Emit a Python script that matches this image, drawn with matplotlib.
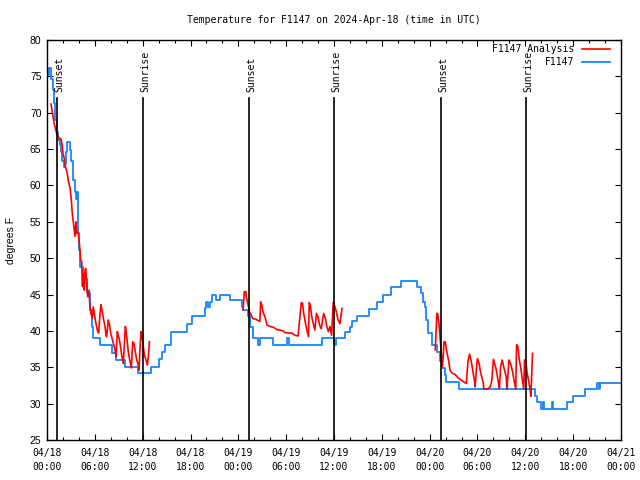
import numpy as np
import matplotlib
matplotlib.use("Agg")
from matplotlib import pyplot as plt
from matplotlib.ticker import MultipleLocator

# hours since 2024-04-18 00:00 UTC
obs_hours = [0.0, 0.3, 0.55, 0.75, 0.9, 1.05, 1.25, 1.4, 1.6, 1.7, 1.9, 2.1, 2.3, 2.4, 2.55,
             2.85, 3.05, 3.2, 3.3, 3.45, 3.6, 3.75, 3.85, 3.9, 3.95, 4.05, 4.2, 4.55, 5.0, 5.4,
             5.6, 5.8, 6.65, 8.1, 8.7, 9.8, 11.45, 13.1, 14.0, 14.4, 14.8, 15.6, 17.5, 18.15,
             19.8, 20.0, 20.2, 20.45, 20.65, 21.2, 21.7, 22.95, 24.4, 24.6, 25.25, 25.5, 25.9,
             26.5, 26.7, 28.3, 30.1, 30.3, 34.5, 36.0, 36.3, 37.4, 38.0, 38.2, 38.9, 40.4,
             41.35, 42.2, 43.2, 44.4, 46.4, 46.9, 47.2, 47.4, 47.6, 47.8, 48.3, 48.9, 49.3,
             49.5, 49.9, 50.1, 51.7, 61.2, 61.5, 62.0, 62.25, 62.4, 63.3, 63.45, 65.2, 66.0,
             67.5, 69.0, 69.2, 69.4, 72.0]
obs_temp = [75.2, 76.1, 74.7, 73.1, 71.3, 69.0, 67.4, 66.25, 65.6, 64.6, 63.3, 62.6, 63.0, 64.6, 66.0,
            64.9, 63.3, 62.1, 60.75, 59.1, 58.2, 59.1, 57.0, 55.5, 53.4, 51.1, 48.8, 47.2, 45.2, 42.9,
            40.6, 39.0, 38.1, 36.9, 36.0, 35.1, 34.2, 35.1, 36.2, 37.1, 38.1, 39.9, 41.0, 42.0,
            43.1, 44.0, 43.3, 44.0, 44.9, 44.25, 44.9, 44.25, 43.3, 42.9, 42.0, 40.6, 39.0,
            38.1, 39.0, 38.1, 39.0, 38.1, 39.0, 38.1, 39.0, 39.9, 40.6, 41.3, 42.0, 43.0,
            44.0, 45.0, 46.0, 46.9, 46.1, 45.2, 44.0, 43.3, 41.5, 39.7, 38.1, 37.1, 35.8,
            34.9, 33.9, 33.0, 32.0, 31.1, 30.2, 29.3, 30.2, 29.3, 30.2, 29.3, 30.2, 31.1,
            32.0, 32.9, 32.0, 32.9, 32.9]

an1_hours = [0.5, 0.75, 0.9, 1.2, 1.5, 1.75, 1.9, 2.0, 2.15, 2.3, 2.5, 2.7, 2.9, 3.05, 3.15, 3.3,
             3.43, 3.51, 3.64, 3.72, 3.85, 3.93, 4.14, 4.22, 4.35, 4.43, 4.47, 4.56, 4.68, 4.77,
             4.85, 4.98, 5.1, 5.27, 5.39, 5.52, 5.69, 5.81, 5.94, 6.06, 6.31, 6.48, 6.65, 6.77,
             6.9, 7.07, 7.28, 7.4, 7.48, 7.69, 7.82, 7.99, 8.15, 8.32, 8.53, 8.66, 8.82, 8.99,
             9.16, 9.37, 9.57, 9.83, 9.91, 10.08, 10.2, 10.41, 10.58, 10.75, 10.91, 11.08, 11.25,
             11.41, 11.54, 11.67, 11.79, 11.92, 12.08, 12.21, 12.42, 12.58, 12.71, 12.84]
an1_temp = [71.2, 69.5, 68.5, 67.2, 66.5, 66.4, 65.6, 64.4, 63.8, 62.6, 61.9, 60.5, 59.6, 58.0, 56.4, 55.0,
            53.9, 53.0, 55.0, 53.4, 53.6, 53.4, 51.1, 49.75, 49.5, 46.3, 46.1, 47.9, 45.6, 48.4,
            48.6, 46.5, 44.7, 45.6, 43.1, 42.4, 41.7, 43.3, 42.4, 41.5, 40.1, 39.7, 42.4, 43.6,
            42.9, 41.7, 40.6, 39.4, 39.2, 41.5, 41.0, 39.7, 39.0, 38.3, 37.4, 36.5, 39.9, 39.2,
            38.3, 36.7, 35.5, 40.6, 40.1, 38.3, 37.1, 35.8, 34.9, 38.5, 38.3, 37.1, 36.0,
            35.5, 34.6, 37.8, 39.9, 39.2, 37.8, 36.7, 36.0, 35.3, 36.5, 38.5]

an2_hours = [24.6, 24.75, 24.95, 25.0, 25.2, 25.4, 25.6, 25.8, 26.2, 26.5, 26.7, 26.8, 26.95, 27.1,
             27.4, 27.6, 28.0, 28.4, 28.8, 29.2, 29.6, 29.9, 30.7, 31.1, 31.5, 31.7, 31.9, 32.05,
             32.2, 32.4, 32.6, 32.8, 32.9, 33.05, 33.2, 33.4, 33.6, 33.8, 34.0, 34.2, 34.4, 34.7,
             34.9, 35.1, 35.3, 35.5, 35.7, 35.9, 36.1, 36.3, 36.5, 36.75, 37.0]
an2_temp = [42.9, 45.4, 45.4, 44.7, 43.7, 42.6, 42.2, 41.7, 41.6, 41.4, 41.3, 44.0, 43.5, 42.6,
            41.7, 40.8, 40.6, 40.5, 40.2, 40.1, 40.0, 39.75, 39.7, 39.4, 39.3, 41.7, 43.9, 43.8,
            42.4, 41.2, 40.1, 39.2, 43.9, 43.4, 42.0, 41.0, 40.1, 42.4, 41.9, 40.8, 40.3, 42.4,
            41.8, 40.6, 39.9, 40.6, 39.4, 43.9, 43.4, 42.6, 41.5, 41.0, 43.1]

an3_hours = [48.7, 48.8, 48.9, 49.0, 49.2, 49.3, 49.5, 49.6, 49.7, 49.8, 49.95, 50.1, 50.4, 50.55,
             50.8, 51.2, 51.6, 52.0, 52.4, 52.6, 52.8, 53.0, 53.2, 53.4, 53.6, 53.7, 53.9, 54.0,
             54.2, 54.4, 54.7, 54.8, 55.2, 55.6, 55.8, 56.0, 56.2, 56.4, 56.6, 56.75, 56.9, 57.1,
             57.3, 57.6, 57.7, 57.95, 58.15, 58.4, 58.6, 58.8, 58.9, 59.05, 59.25, 59.4, 59.6,
             59.8, 59.9, 60.05, 60.2, 60.4, 60.6, 60.7, 60.8, 60.9]
an3_temp = [37.4, 39.7, 42.4, 42.4, 40.6, 39.2, 36.2, 35.1, 36.6, 38.5, 38.5, 37.4, 35.8, 34.6,
            34.2, 34.0, 33.5, 33.2, 32.9, 32.8, 35.8, 36.8, 35.9, 34.6, 33.25, 32.3, 35.3, 36.2,
            35.5, 34.2, 33.0, 32.0, 32.0, 32.3, 33.25, 36.1, 35.3, 34.4, 33.0, 32.1, 35.1, 36.0,
            35.0, 33.7, 32.0, 36.0, 35.5, 34.4, 33.1, 32.0, 38.1, 37.9, 36.0, 35.1, 33.5,
            32.0, 36.0, 36.0, 34.4, 33.2, 31.9, 31.0, 33.9, 36.9]

event_hours = [1.29, 12.08, 25.38, 36.04, 49.46, 60.13]
event_names = ["Sunset", "Sunrise", "Sunset", "Sunrise", "Sunset", "Sunrise"]

tick_labels = ["04/18\n00:00", "04/18\n06:00", "04/18\n12:00", "04/18\n18:00",
               "04/19\n00:00", "04/19\n06:00", "04/19\n12:00", "04/19\n18:00",
               "04/20\n00:00", "04/20\n06:00", "04/20\n12:00", "04/20\n18:00",
               "04/21\n00:00"]

mono = "DejaVu Sans Mono"
sans = "Liberation Sans"

fig = plt.figure(figsize=(6.4, 4.8), dpi=100)
ax = fig.add_axes([47 / 640, 40 / 480, 574 / 640, 400 / 480])

# analysis segments joined with gaps
an_hours = an1_hours + [np.nan] + an2_hours + [np.nan] + an3_hours
an_temp = an1_temp + [np.nan] + an2_temp + [np.nan] + an3_temp
ax.plot(an_hours, an_temp, color="#ff0000", lw=1.2, label="F1147 Analysis", zorder=3)
ax.plot(obs_hours, obs_temp, color="#1a84ff", lw=1.3, drawstyle="steps-post", label="F1147", zorder=2)

for h, name in zip(event_hours, event_names):
    ax.plot([h, h], [25, 72.0], color="black", lw=1.2, zorder=4)
    ax.text(h + 0.2, 72.9, name, rotation=90, ha="center", va="bottom",
            fontsize=7, family=mono)

ax.set_xlim(0, 72)
ax.set_ylim(25, 80)
ax.set_xticks(np.arange(0, 73, 6))
ax.set_xticklabels(tick_labels, family=mono, fontsize=7, linespacing=1.4)
ax.xaxis.set_minor_locator(MultipleLocator(2))
ax.yaxis.set_major_locator(MultipleLocator(5))
for lbl in ax.get_yticklabels():
    lbl.set_family(sans)
    lbl.set_fontsize(7.5)
ax.tick_params(direction="in", top=True, right=True, length=4, width=0.8, pad=6)
ax.tick_params(which="minor", direction="in", top=True, length=2, width=0.8)
ax.tick_params(axis="y", pad=4)
for sp in ax.spines.values():
    sp.set_linewidth(1.0)

ax.set_ylabel("degrees F", family=sans, fontsize=7.5, labelpad=10)
fig.text(334 / 640, 1 - 20 / 480, "Temperature for F1147 on 2024-Apr-18 (time in UTC)",
         ha="center", va="center", family=mono, fontsize=7)

ax.legend(loc="upper right", bbox_to_anchor=((610 - 47) / 574, 0.99), frameon=False,
          markerfirst=False, borderaxespad=0, borderpad=0, handlelength=2.9,
          handletextpad=0.8, labelspacing=0.3, prop={"family": mono, "size": 7})

fig.savefig("out.png", dpi=100)
